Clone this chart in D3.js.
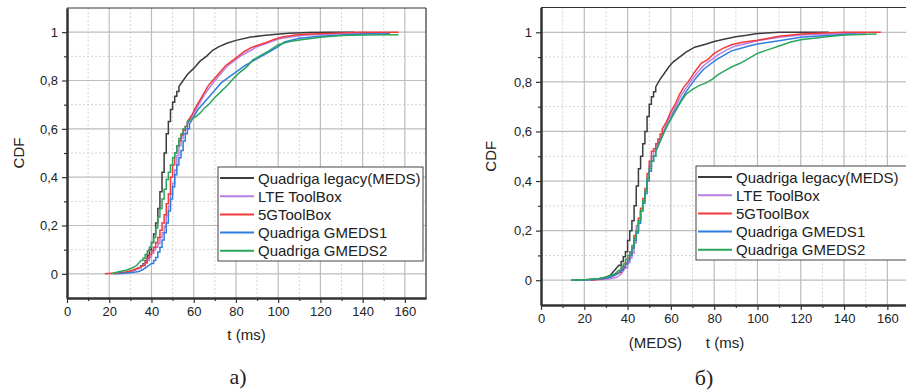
<!DOCTYPE html>
<html>
<head>
<meta charset="utf-8">
<script src="https://cdnjs.cloudflare.com/ajax/libs/d3/7.8.5/d3.min.js"></script>
<style>
  body { margin: 0; background: #fff; }
  text { font-family: Arial, "Liberation Sans", sans-serif; fill: #222; }
</style>
</head>
<body>
<svg id="chart" width="906" height="392"></svg>
<script>
// tick values / labels
var tTicks = [0, 20, 40, 60, 80, 100, 120, 140, 160];
var tMinor = [10, 30, 50, 70, 90, 110, 130, 150];
var cdfTicks = [0, 0.2, 0.4, 0.6, 0.8, 1];
var cdfMinor = [0.1, 0.3, 0.5, 0.7, 0.9];

var seriesNames = ["Quadriga legacy(MEDS)", "LTE ToolBox", "5GToolBox", "Quadriga GMEDS1", "Quadriga GMEDS2"];
var seriesColors = ["#3c3c3c", "#b77fe3", "#f23a3a", "#2f7ddc", "#2aa55c"];

// panel a) : [t ms, CDF]
var legacyA = [[22,0],[28,0.005],[32,0.015],[34,0.025],[35,0.033],[36,0.042],[37,0.055],[38,0.075],[39,0.1],[40,0.13],[41,0.165],[42,0.21],[43,0.27],[44,0.34],[45,0.42],[46,0.5],[47,0.58],[48,0.63],[49,0.68],[50,0.71],[51,0.735],[52,0.755],[53,0.775],[55,0.8],[57,0.825],[60,0.85],[63,0.88],[66,0.9],[69,0.925],[72,0.94],[76,0.955],[80,0.966],[87,0.98],[93,0.986],[98,0.99],[105,0.996],[115,0.999],[125,1],[136,1]];
var lteA = [[23,0],[26,0.004],[30,0.01],[34,0.022],[36,0.035],[38,0.055],[39,0.07],[40,0.085],[41,0.1],[42,0.11],[43,0.125],[44,0.15],[45,0.17],[46,0.195],[47,0.24],[48,0.28],[49,0.33],[50,0.375],[51,0.43],[52,0.49],[53,0.53],[54,0.56],[55,0.58],[56,0.6],[57,0.62],[59,0.65],[61,0.68],[63,0.71],[65,0.74],[67,0.765],[70,0.8],[73,0.83],[76,0.86],[79,0.88],[82,0.9],[86,0.92],[90,0.94],[95,0.955],[100,0.972],[105,0.979],[112,0.987],[120,0.99],[130,0.993],[147,0.995]];
var g5A = [[18,0],[24,0.003],[28,0.008],[31,0.015],[34,0.025],[36,0.035],[37,0.045],[38,0.065],[39,0.08],[40,0.095],[41,0.11],[42,0.13],[43,0.15],[44,0.18],[45,0.21],[46,0.245],[47,0.29],[48,0.33],[49,0.4],[50,0.45],[51,0.5],[52,0.53],[53,0.55],[54,0.575],[55,0.595],[56,0.61],[57,0.63],[59,0.655],[61,0.69],[63,0.72],[65,0.75],[67,0.78],[69,0.8],[72,0.83],[75,0.86],[78,0.88],[81,0.9],[84,0.92],[87,0.935],[90,0.945],[94,0.956],[98,0.97],[102,0.98],[108,0.988],[115,0.992],[125,0.995],[137,1],[157,1]];
var gmeds1A = [[24,0],[30,0.004],[34,0.01],[36,0.018],[38,0.03],[40,0.043],[41,0.055],[42,0.068],[43,0.09],[44,0.11],[45,0.14],[46,0.17],[47,0.21],[48,0.26],[49,0.31],[50,0.36],[51,0.41],[52,0.45],[53,0.48],[54,0.51],[55,0.55],[56,0.58],[57,0.6],[58,0.62],[60,0.65],[62,0.68],[64,0.7],[67,0.73],[70,0.76],[73,0.79],[76,0.81],[80,0.835],[84,0.86],[88,0.88],[92,0.9],[96,0.92],[100,0.94],[103,0.96],[110,0.975],[120,0.983],[130,0.988],[140,0.992],[153,0.993]];
var gmeds2A = [[21,0],[24,0.008],[28,0.015],[31,0.025],[33,0.035],[35,0.055],[36,0.065],[37,0.08],[38,0.095],[39,0.11],[40,0.13],[41,0.15],[42,0.19],[43,0.235],[44,0.27],[45,0.31],[46,0.35],[47,0.39],[48,0.42],[49,0.45],[50,0.48],[51,0.5],[52,0.53],[53,0.56],[54,0.58],[55,0.6],[56,0.61],[57,0.63],[59,0.64],[61,0.65],[63,0.665],[65,0.685],[67,0.7],[70,0.73],[73,0.755],[76,0.78],[79,0.81],[82,0.835],[85,0.855],[88,0.885],[92,0.905],[96,0.925],[100,0.948],[105,0.96],[110,0.968],[120,0.979],[130,0.986],[140,0.988],[157,0.989]];

// panel б) : [t ms, CDF]
var legacyB = [[14,0],[20,0.002],[26,0.005],[30,0.012],[32,0.02],[34,0.04],[36,0.06],[37,0.075],[38,0.095],[39,0.115],[40,0.16],[41,0.2],[42,0.24],[43,0.3],[44,0.38],[45,0.45],[46,0.5],[47,0.55],[48,0.6],[49,0.66],[50,0.71],[51,0.74],[52,0.76],[53,0.78],[55,0.81],[57,0.835],[59,0.86],[61,0.88],[64,0.9],[67,0.92],[71,0.94],[76,0.952],[80,0.963],[85,0.973],[90,0.982],[95,0.988],[100,0.995],[110,1],[133,1]];
var lteB = [[22,0],[28,0.003],[32,0.006],[35,0.012],[37,0.025],[39,0.05],[40,0.07],[41,0.09],[42,0.11],[43,0.15],[44,0.22],[45,0.24],[46,0.28],[47,0.32],[48,0.36],[49,0.41],[50,0.46],[51,0.5],[52,0.52],[53,0.54],[55,0.57],[57,0.61],[59,0.65],[61,0.68],[63,0.715],[65,0.75],[67,0.775],[69,0.8],[72,0.835],[75,0.865],[78,0.885],[82,0.91],[86,0.93],[90,0.945],[95,0.955],[100,0.966],[110,0.98],[120,0.989],[130,0.993],[150,0.995]];
var g5B = [[23,0],[28,0.005],[31,0.01],[34,0.02],[36,0.03],[37,0.045],[38,0.055],[39,0.07],[40,0.09],[41,0.11],[42,0.13],[43,0.18],[44,0.2],[45,0.25],[46,0.29],[47,0.33],[48,0.37],[49,0.43],[50,0.48],[51,0.52],[52,0.53],[53,0.55],[54,0.57],[55,0.59],[56,0.61],[58,0.64],[60,0.68],[62,0.71],[64,0.75],[66,0.78],[68,0.8],[71,0.84],[74,0.875],[77,0.89],[80,0.915],[84,0.935],[88,0.95],[93,0.96],[100,0.968],[110,0.984],[120,0.993],[130,0.997],[140,1],[157,1]];
var gmeds1B = [[14,0],[22,0.002],[28,0.006],[32,0.012],[35,0.025],[37,0.04],[38,0.05],[39,0.065],[40,0.08],[41,0.1],[42,0.13],[43,0.16],[44,0.19],[45,0.23],[46,0.28],[47,0.31],[48,0.35],[49,0.4],[50,0.44],[51,0.48],[52,0.5],[53,0.52],[55,0.56],[57,0.6],[59,0.635],[61,0.67],[63,0.7],[65,0.73],[67,0.76],[69,0.785],[72,0.82],[75,0.85],[78,0.87],[81,0.89],[84,0.905],[88,0.925],[92,0.935],[96,0.945],[100,0.953],[110,0.966],[120,0.98],[130,0.986],[145,0.993]];
var gmeds2B = [[14,0],[22,0.003],[27,0.007],[31,0.015],[34,0.025],[36,0.04],[37,0.055],[38,0.065],[39,0.085],[40,0.1],[41,0.115],[42,0.14],[43,0.17],[44,0.2],[45,0.24],[46,0.28],[47,0.32],[48,0.36],[49,0.41],[50,0.45],[51,0.48],[52,0.5],[53,0.52],[55,0.56],[57,0.6],[59,0.635],[61,0.665],[63,0.695],[65,0.725],[67,0.75],[70,0.77],[73,0.785],[76,0.795],[79,0.81],[82,0.83],[85,0.845],[88,0.86],[92,0.875],[96,0.895],[100,0.915],[105,0.93],[110,0.945],[115,0.96],[120,0.97],[130,0.98],[140,0.989],[155,0.993]];

var svg = d3.select("#chart");
svg.append("rect").attr("width", 906).attr("height", 392).attr("fill", "#fff");

function fmtCdf(v) {
  if (v === 0 || v === 1) return String(v);
  return v.toFixed(1).replace(".", ",");
}

// steps where samples are 1 ms apart, straight segments over the sparse tail
function cdfPath(s, x, y) {
  var d = "M" + x(s[0][0]) + "," + y(s[0][1]);
  for (var i = 1; i < s.length; i++) {
    if (s[i][0] - s[i - 1][0] <= 1.5) d += "H" + x(s[i][0]) + "V" + y(s[i][1]);
    else d += "L" + x(s[i][0]) + "," + y(s[i][1]);
  }
  return d;
}

function drawPanel(p) {
  var x = d3.scaleLinear().domain([0, 170]).range([p.left, p.right]);
  var y = d3.scaleLinear().domain([-0.1, 1.1]).range([p.bottom, p.top]);
  var g = svg.append("g");

  // minor grid (dotted)
  g.selectAll(".gxm").data(tMinor).enter().append("line")
    .attr("x1", d => x(d)).attr("x2", d => x(d))
    .attr("y1", p.top).attr("y2", p.bottom)
    .attr("stroke", "#d4d4d4").attr("stroke-dasharray", "2,2");
  g.selectAll(".gym").data(cdfMinor).enter().append("line")
    .attr("y1", d => y(d)).attr("y2", d => y(d))
    .attr("x1", p.left).attr("x2", p.right)
    .attr("stroke", "#d4d4d4").attr("stroke-dasharray", "2,2");
  // major grid
  g.selectAll(".gx").data(tTicks.slice(1)).enter().append("line")
    .attr("x1", d => x(d)).attr("x2", d => x(d))
    .attr("y1", p.top).attr("y2", p.bottom)
    .attr("stroke", "#bdbdbd").attr("stroke-width", 1.2);
  g.selectAll(".gy").data(cdfTicks).enter().append("line")
    .attr("y1", d => y(d)).attr("y2", d => y(d))
    .attr("x1", p.left).attr("x2", p.right)
    .attr("stroke", "#bdbdbd").attr("stroke-width", 1.2);

  // curves
  p.series.forEach(function(s, i) {
    g.append("path").attr("d", cdfPath(s, x, y))
      .attr("fill", "none")
      .attr("stroke", seriesColors[i])
      .attr("stroke-width", 1.5);
  });

  // frame top / right
  g.append("line").attr("x1", p.left).attr("x2", p.right).attr("y1", p.top).attr("y2", p.top)
    .attr("stroke", "#333").attr("stroke-width", 1.2);
  g.append("line").attr("x1", p.right).attr("x2", p.right).attr("y1", p.top).attr("y2", p.bottom)
    .attr("stroke", "#333").attr("stroke-width", 1.2);

  // axes
  g.append("g").attr("transform", "translate(" + p.left + ",0)")
    .call(d3.axisLeft(y).tickValues(cdfTicks).tickSize(5).tickSizeOuter(0).tickFormat(fmtCdf).tickPadding(4));
  g.append("g").attr("transform", "translate(" + p.left + ",0)")
    .call(d3.axisLeft(y).tickValues(cdfMinor).tickSize(3).tickSizeOuter(0).tickFormat(""));
  g.append("g").attr("transform", "translate(0," + p.bottom + ")")
    .call(d3.axisBottom(x).tickValues(tTicks).tickSize(5).tickSizeOuter(0).tickPadding(4));
  g.append("g").attr("transform", "translate(0," + p.bottom + ")")
    .call(d3.axisBottom(x).tickValues(tMinor).tickSize(3).tickSizeOuter(0).tickFormat(""));
  g.selectAll(".domain").attr("stroke", "#333").attr("stroke-width", 2);
  g.selectAll(".tick line").attr("stroke", "#333").attr("stroke-width", 1.2);
  g.selectAll(".tick text").attr("font-size", "13px").attr("fill", "#222")
    .attr("font-family", "Arial, 'Liberation Sans', sans-serif");

  // axis titles
  g.append("text")
    .attr("transform", "translate(" + p.yTitleX + "," + ((p.top + p.bottom) / 2) + ") rotate(-90)")
    .attr("text-anchor", "middle").attr("font-size", "15px").text("CDF");
  g.append("text").attr("x", (p.left + p.right) / 2).attr("y", p.xTitleY)
    .attr("text-anchor", "middle").attr("font-size", "15px").text("t (ms)");
  if (p.xPrefix) {
    g.append("text").attr("x", (p.left + p.right) / 2 - 43).attr("y", p.xTitleY)
      .attr("text-anchor", "end").attr("font-size", "15px").text(p.xPrefix);
  }

  // legend
  var lg = g.append("g").attr("transform", "translate(" + p.legX + "," + p.legY + ")");
  lg.append("rect").attr("width", p.legW).attr("height", 94)
    .attr("fill", "#fff").attr("stroke", "#444").attr("stroke-width", 1);
  seriesNames.forEach(function(name, i) {
    var yy = 11 + i * 18.2;
    lg.append("line").attr("x1", 2).attr("x2", 36).attr("y1", yy).attr("y2", yy)
      .attr("stroke", seriesColors[i]).attr("stroke-width", 2);
    lg.append("text").attr("x", 40).attr("y", yy + 5.5)
      .attr("font-size", "15px").text(name);
  });

  // caption
  svg.append("text").attr("x", p.capX).attr("y", p.capY)
    .attr("text-anchor", "middle").attr("font-size", "22px")
    .style("font-family", "'Liberation Serif', 'DejaVu Serif', serif")
    .text(p.caption);
}

drawPanel({
  left: 67, right: 426, top: 8, bottom: 298,
  series: [legacyA, lteA, g5A, gmeds1A, gmeds2A],
  yTitleX: 24, xTitleY: 340,
  legX: 218, legY: 167, legW: 205,
  caption: "a)", capX: 238, capY: 384
});
drawPanel({
  left: 541, right: 909, top: 7.5, bottom: 305,
  series: [legacyB, lteB, g5B, gmeds1B, gmeds2B],
  yTitleX: 496, xTitleY: 348, xPrefix: "(MEDS)",
  legX: 696, legY: 166, legW: 215,
  caption: "б)", capX: 704, capY: 385
});
</script>
</body>
</html>
